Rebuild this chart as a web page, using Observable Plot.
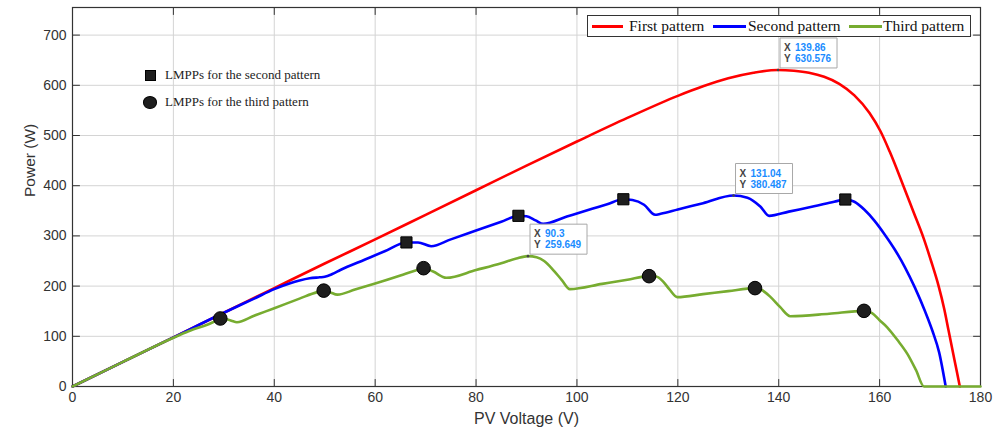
<!DOCTYPE html>
<html>
<head>
<meta charset="utf-8">
<script src="https://cdn.jsdelivr.net/npm/d3@7"></script>
<script src="https://cdn.jsdelivr.net/npm/@observablehq/plot@0.6"></script>
<style>
html, body { margin: 0; padding: 0; background: #fff; }
#wrap { position: relative; width: 995px; height: 430px; overflow: hidden; }
.legbox { position: absolute; left: 587px; top: 15px; width: 382px; height: 20px; border: 1px solid #333; background: #fff;
  font-family: "Liberation Serif", "Times New Roman", serif; font-size: 15.5px; color: #111; }
.legbox .sw { position: absolute; top: 8.5px; height: 3px; }
.legbox .tx { position: absolute; top: 0px; line-height: 20px; white-space: nowrap; }
.mleg { position: absolute; font-family: "Liberation Serif", "Times New Roman", serif; font-size: 13px; color: #222; white-space: nowrap; line-height: 16px; }
.mk { position: absolute; background: #1e1e1e; border: 1px solid #000; box-sizing: border-box; }
</style>
</head>
<body>
<div id="wrap"></div>
<script>
// ---- data ----
const xTicks = [0, 20, 40, 60, 80, 100, 120, 140, 160, 180];
const yTicks = [0, 100, 200, 300, 400, 500, 600, 700];
const xLabel = "PV Voltage (V)";
const yLabel = "Power (W)";

const seriesNames = ["First pattern", "Second pattern", "Third pattern"];
const seriesColors = ["#ff0000", "#0000ff", "#77ac30"];

const firstV = [0, 10, 20, 30, 40, 50, 60, 70, 80, 90, 100, 110, 120, 125, 130, 135, 139.86, 143, 146, 149, 152, 155, 158, 160.2, 162, 164.7, 166.7, 168.7, 170.2, 171.7, 172.8, 173.7, 174.8, 175.9];
const firstP = [0, 49, 98, 147, 196, 245, 293, 342, 391, 440, 488, 535, 579, 598, 614, 625, 630.576, 629, 625, 617, 603, 580, 545, 508, 468, 400, 348, 296, 250, 200, 155, 110, 55, 0];

const secondV = [0, 10, 20, 30, 36, 40, 43, 45, 47, 49, 50, 51.5, 53.1, 58, 62, 66.2, 68.5, 71.1, 75, 80, 85, 88.4, 90, 91.8, 93.3, 98, 103, 106, 109.2, 111, 113.3, 115.5, 116.6, 120, 125, 131.04, 133.8, 136.4, 138.1, 142, 147, 151, 153.2, 155, 157, 159, 161, 163, 165, 167, 169, 170.5, 171.8, 173.1];
const secondP = [0, 49, 98, 147, 175, 194, 205, 211, 215.5, 217.5, 218.5, 224, 232, 253, 270, 287, 287, 279.5, 293.1, 310.6, 328.1, 340, 339, 331, 324, 338.5, 353.9, 363.1, 373, 371.5, 362, 342, 344, 352.6, 365.2, 380.487, 376, 358, 340, 348.4, 359, 368, 372.5, 368, 352, 330, 303, 273, 238, 197, 150, 110, 68, 0];

const thirdV = [0, 10, 20, 23, 26.7, 29.3, 30.5, 31.5, 32.6, 36, 40, 45, 48.5, 49.8, 51, 52.5, 56, 60, 65, 68, 69.6, 71.5, 74.1, 80, 85, 88, 90.3, 92, 93.5, 95.4, 97, 98.6, 105, 110, 114.3, 115.7, 117, 118.3, 119.9, 125, 130, 135.3, 136.5, 138.4, 140.3, 142.3, 150, 156.9, 158.5, 160, 161.5, 163.5, 165.5, 167.2, 168.8, 180];
const thirdP = [0, 49, 97, 110, 123, 133, 134, 131, 128, 141, 156, 175, 188, 191, 188, 183, 193, 205, 221, 231, 235.7, 229, 216.5, 232, 245.5, 255, 259.649, 257.5, 250, 231, 212, 194, 204.5, 212.7, 219.8, 219, 210, 194, 178, 184, 190, 196, 193, 178, 158, 140, 145, 150.7, 146, 132, 118, 93, 65, 33, 0, 0];

const lmpp2V = [66.2, 88.4, 109.2, 153.2];
const lmpp2P = [287, 340, 373, 372.5];
const lmpp3V = [29.3, 49.8, 69.6, 114.3, 135.3, 156.9];
const lmpp3P = [135.5, 191, 235.7, 219.8, 196, 150.7];
const markerLegend = ["LMPPs for the second pattern", "LMPPs for the third pattern"];

const tipV = [139.86, 131.04, 90.3];
const tipP = [630.576, 380.487, 259.649];

// ---- tables ----
const zip = (V, P) => V.map((v, i) => ({v, p: P[i]}));
const first = zip(firstV, firstP);
const second = zip(secondV, secondP);
const third = zip(thirdV, thirdP);
const lmpp2 = zip(lmpp2V, lmpp2P);
const lmpp3 = zip(lmpp3V, lmpp3P);
const tips = zip(tipV, tipP);

const boxSymbol = {
  draw(ctx) {
    ctx.moveTo(2, -2); ctx.lineTo(59, -2); ctx.lineTo(59, -32); ctx.lineTo(2, -32); ctx.closePath();
  }
};
const tickShape = {
  draw(ctx, l) { ctx.moveTo(0, 0); ctx.lineTo(0, -l); }
};

const lineOpts = (c) => ({x: "v", y: "p", stroke: c, strokeWidth: 2.6, curve: "monotone-x"});
const tickStyle = {length: 7, anchor: "start", shape: tickShape, stroke: "#333", strokeWidth: 1};

const chart = Plot.plot({
  width: 995,
  height: 430,
  marginLeft: 72,
  marginRight: 15,
  marginTop: 7,
  marginBottom: 44,
  x: {domain: [0, 180]},
  y: {domain: [0, 755]},
  style: {fontFamily: "'Liberation Sans', Arial, sans-serif", background: "white", overflow: "visible"},
  marks: [
    Plot.gridX(xTicks, {stroke: "#d4d4d4", strokeOpacity: 1}),
    Plot.gridY(yTicks, {stroke: "#d4d4d4", strokeOpacity: 1}),
    Plot.axisX(xTicks, {anchor: "bottom", tickSize: 0, tickPadding: 6, fontSize: 14, color: "#333", label: null}),
    Plot.axisY(yTicks, {anchor: "left", tickSize: 0, tickPadding: 6, fontSize: 14, color: "#333", label: null}),
    // inward tick marks on all four sides (MATLAB box style)
    Plot.vector(xTicks, {x: (d) => d, frameAnchor: "bottom", rotate: 0, ...tickStyle}),
    Plot.vector(xTicks, {x: (d) => d, frameAnchor: "top", rotate: 180, ...tickStyle}),
    Plot.vector(yTicks, {y: (d) => d, frameAnchor: "left", rotate: 90, ...tickStyle}),
    Plot.vector(yTicks, {y: (d) => d, frameAnchor: "right", rotate: -90, ...tickStyle}),
    Plot.frame({stroke: "#333", strokeWidth: 1.2}),
    Plot.text([xLabel], {frameAnchor: "bottom", dy: 37, fontSize: 16, fill: "#333"}),
    Plot.text([yLabel], {frameAnchor: "left", dx: -42, rotate: -90, fontSize: 15.5, fill: "#333"}),
    Plot.line(first, lineOpts(seriesColors[0])),
    Plot.line(second, lineOpts(seriesColors[1])),
    Plot.line(third, lineOpts(seriesColors[2])),
    Plot.dot(lmpp2, {x: "v", y: "p", symbol: "square", r: 6.3, fill: "#1e1e1e", stroke: "#000", strokeWidth: 1}),
    Plot.dot(lmpp3, {x: "v", y: "p", symbol: "circle", r: 6.8, fill: "#1e1e1e", stroke: "#000", strokeWidth: 1}),
    Plot.dot(tips, {x: "v", y: "p", symbol: boxSymbol, fill: "white", stroke: "#a8a8a8", strokeWidth: 1}),
    Plot.dot(tips, {x: "v", y: "p", r: 1.3, fill: "#444"}),
    Plot.text(tips, {x: "v", y: "p", text: () => "X", dx: 6, dy: -22, textAnchor: "start", fill: "#444", fontSize: 10, fontWeight: "bold"}),
    Plot.text(tips, {x: "v", y: "p", text: () => "Y", dx: 6, dy: -11, textAnchor: "start", fill: "#444", fontSize: 10, fontWeight: "bold"}),
    Plot.text(tips, {x: "v", y: "p", text: (d) => String(d.v), dx: 17, dy: -22, textAnchor: "start", fill: "#1a8cff", fontSize: 10, fontWeight: "bold"}),
    Plot.text(tips, {x: "v", y: "p", text: (d) => String(d.p), dx: 17, dy: -11, textAnchor: "start", fill: "#1a8cff", fontSize: 10, fontWeight: "bold"})
  ]
});

const wrap = document.getElementById("wrap");
wrap.appendChild(chart);

// series legend (top right box)
const leg = document.createElement("div");
leg.className = "legbox";
const swLeft = [4, 125, 261];
const swWidth = [31, 33, 33];
const txLeft = [41, 160, 295];
seriesNames.forEach((name, i) => {
  const sw = document.createElement("div");
  sw.className = "sw";
  sw.style.left = swLeft[i] + "px";
  sw.style.width = swWidth[i] + "px";
  sw.style.background = seriesColors[i];
  leg.appendChild(sw);
  const tx = document.createElement("div");
  tx.className = "tx";
  tx.style.left = txLeft[i] + "px";
  tx.textContent = name;
  leg.appendChild(tx);
});
wrap.appendChild(leg);

// marker legend (top left)
const mkTop = [69.5, 96];
markerLegend.forEach((name, i) => {
  const mk = document.createElement("div");
  mk.className = "mk";
  if (i === 0) {
    mk.style.left = "144.5px"; mk.style.top = mkTop[i] + "px"; mk.style.width = "11px"; mk.style.height = "11px";
  } else {
    mk.style.left = "143px"; mk.style.top = mkTop[i] + "px"; mk.style.width = "14px"; mk.style.height = "12.5px"; mk.style.borderRadius = "50%";
  }
  wrap.appendChild(mk);
  const t = document.createElement("div");
  t.className = "mleg";
  t.style.left = "165px";
  t.style.top = (i === 0 ? 67 : 94) + "px";
  t.textContent = name;
  wrap.appendChild(t);
});
</script>
</body>
</html>
